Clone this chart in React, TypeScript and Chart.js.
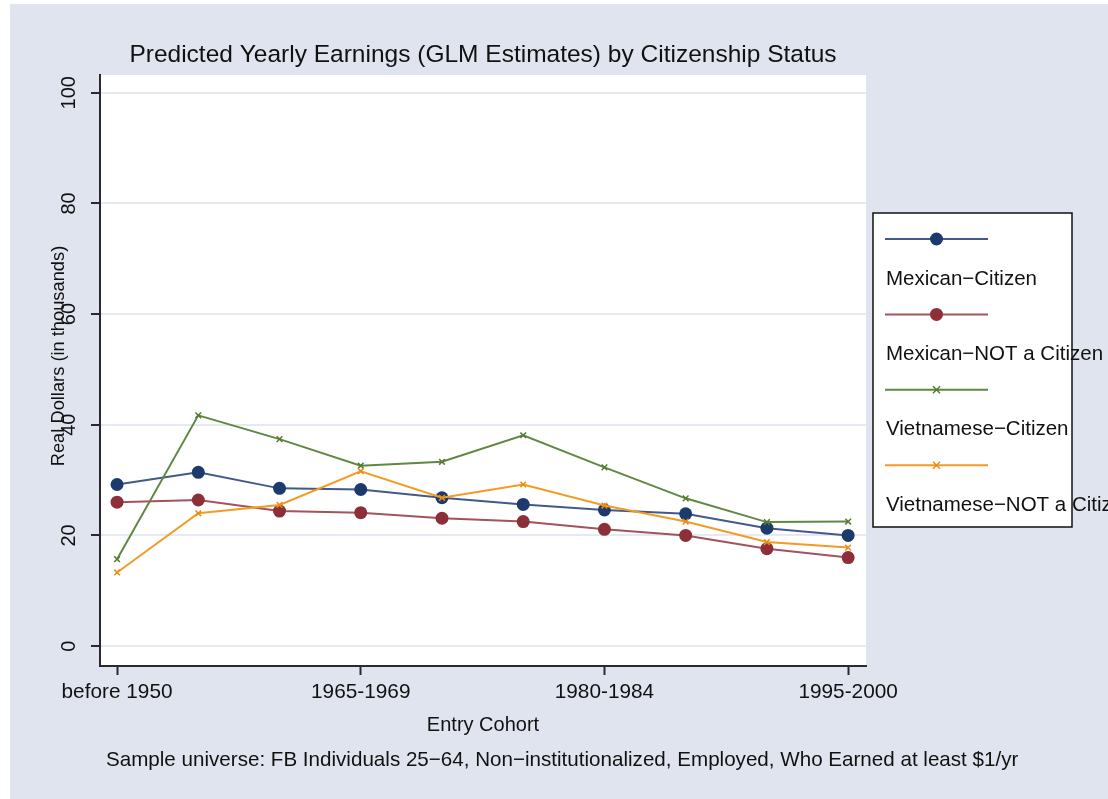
import React, { useEffect, useRef } from 'react';
import { Chart, registerables } from 'chart.js';

Chart.register(...registerables);

// Entry cohorts along the x axis (one point per cohort)
const cohorts = [
  'before 1950',
  '1950-1959',
  '1960-1964',
  '1965-1969',
  '1970-1974',
  '1975-1979',
  '1980-1984',
  '1985-1989',
  '1990-1994',
  '1995-2000',
];
// Cohorts that carry a tick label
const labeledCohorts = [0, 3, 6, 9];
// y axis ticks (thousands of real dollars)
const yTicks = [0, 20, 40, 60, 80, 100];

// Predicted yearly earnings, thousands of real dollars
const mexicanCitizen = [29.2, 31.4, 28.5, 28.3, 26.8, 25.6, 24.6, 23.9, 21.3, 20.0];
const mexicanNonCitizen = [26.0, 26.4, 24.4, 24.1, 23.1, 22.5, 21.1, 20.0, 17.6, 16.0];
const vietnameseCitizen = [15.7, 41.7, 37.4, 32.6, 33.3, 38.1, 32.3, 26.7, 22.4, 22.5];
const vietnameseNonCitizen = [13.3, 24.0, 25.5, 31.6, 26.8, 29.2, 25.4, 22.5, 18.8, 17.8];

const seriesLabels = [
  'Mexican\u2212Citizen',
  'Mexican\u2212NOT a Citizen',
  'Vietnamese\u2212Citizen',
  'Vietnamese\u2212NOT a Citizen',
];

const TITLE = 'Predicted Yearly Earnings (GLM Estimates) by Citizenship Status';
const X_TITLE = 'Entry Cohort';
const Y_TITLE = 'Real Dollars (in thousands)';
const NOTE =
  'Sample universe: FB Individuals 25\u221264, Non\u2212institutionalized, Employed, Who Earned at least $1/yr';

const FONT = '"Liberation Sans", Arial, Helvetica, sans-serif';
const TEXT = '#111111';
const PANEL = '#e0e4ef';
const GRID = '#e4e9f3';
const AXIS = '#2a2a2a';

type Style = { line: string; marker: string; shape: 'circle' | 'crossRot' };
const styles: Style[] = [
  { line: '#42598a', marker: '#1d3a6c', shape: 'circle' },
  { line: '#a4525b', marker: '#8c2f38', shape: 'circle' },
  { line: '#618743', marker: '#55792f', shape: 'crossRot' },
  { line: '#f29b25', marker: '#ea8d10', shape: 'crossRot' },
];
const seriesValues = [mexicanCitizen, mexicanNonCitizen, vietnameseCitizen, vietnameseNonCitizen];

function drawMarker(ctx: CanvasRenderingContext2D, st: Style, x: number, y: number) {
  ctx.save();
  if (st.shape === 'circle') {
    ctx.fillStyle = st.marker;
    ctx.beginPath();
    ctx.arc(x, y, 6.5, 0, Math.PI * 2);
    ctx.fill();
  } else {
    ctx.strokeStyle = st.marker;
    ctx.lineWidth = 1.5;
    const r = 3.5;
    ctx.beginPath();
    ctx.moveTo(x - r, y - r);
    ctx.lineTo(x + r, y + r);
    ctx.moveTo(x - r, y + r);
    ctx.lineTo(x + r, y - r);
    ctx.stroke();
  }
  ctx.restore();
}

const decorPlugin = {
  id: 'decor',
  beforeDraw(chart: any) {
    const { ctx, chartArea: a, width, height } = chart;
    ctx.save();
    ctx.fillStyle = '#ffffff';
    ctx.fillRect(0, 0, width, height);
    ctx.fillStyle = PANEL;
    ctx.fillRect(10, 4, width - 10, height - 4);
    ctx.fillStyle = '#ffffff';
    ctx.fillRect(a.left, a.top, a.right - a.left, a.bottom - a.top);
    ctx.restore();
  },
  afterDraw(chart: any) {
    const { ctx, chartArea: a } = chart;
    const xs = chart.scales.x;
    const ys = chart.scales.y;
    const cx = (a.left + a.right) / 2;
    ctx.save();
    ctx.fillStyle = TEXT;
    ctx.textBaseline = 'middle';

    // title
    ctx.textAlign = 'center';
    ctx.font = `24.5px ${FONT}`;
    ctx.fillText(TITLE, cx, 55);

    // x tick labels and axis title
    ctx.font = `20.8px ${FONT}`;
    labeledCohorts.forEach((i) => ctx.fillText(cohorts[i], xs.getPixelForValue(i), 692));
    ctx.font = `20px ${FONT}`;
    ctx.fillText(X_TITLE, cx, 725);

    // y tick labels, rotated
    ctx.font = `20px ${FONT}`;
    yTicks.forEach((v) => {
      ctx.save();
      ctx.translate(69, ys.getPixelForValue(v));
      ctx.rotate(-Math.PI / 2);
      ctx.fillText(String(v), 0, 0);
      ctx.restore();
    });

    // y axis title
    ctx.save();
    ctx.font = `18.3px ${FONT}`;
    ctx.translate(59, 356);
    ctx.rotate(-Math.PI / 2);
    ctx.fillText(Y_TITLE, 0, 0);
    ctx.restore();

    // note
    ctx.textAlign = 'left';
    ctx.font = `20.6px ${FONT}`;
    ctx.fillText(NOTE, 106, 760);

    // legend
    const bx = 873;
    const by = 213;
    const bw = 199;
    const bh = 314;
    ctx.fillStyle = '#ffffff';
    ctx.fillRect(bx, by, bw, bh);
    ctx.strokeStyle = '#111111';
    ctx.lineWidth = 1.5;
    ctx.strokeRect(bx, by, bw, bh);
    styles.forEach((st, k) => {
      const ly = 239 + k * 75.4;
      ctx.strokeStyle = st.line;
      ctx.lineWidth = 2;
      ctx.beginPath();
      ctx.moveTo(885, ly);
      ctx.lineTo(988, ly);
      ctx.stroke();
      drawMarker(ctx, st, 936.5, ly);
      ctx.fillStyle = TEXT;
      ctx.font = `20.5px ${FONT}`;
      ctx.textAlign = 'left';
      ctx.fillText(seriesLabels[k], 886, ly + 40);
    });
    ctx.restore();
  },
};

export default function App() {
  const canvasRef = useRef<HTMLCanvasElement | null>(null);

  useEffect(() => {
    const canvas = canvasRef.current;
    if (!canvas) return;

    const datasets = seriesValues.map((vals, k) => {
      const st = styles[k];
      return {
        label: seriesLabels[k],
        data: vals.map((v, i) => ({ x: i, y: v })),
        borderColor: st.line,
        backgroundColor: st.marker,
        borderWidth: 2,
        pointStyle: st.shape,
        pointRadius: st.shape === 'circle' ? 6.5 : 4,
        pointBorderWidth: st.shape === 'circle' ? 0 : 1.5,
        pointBackgroundColor: st.marker,
        pointBorderColor: st.marker,
        tension: 0,
        fill: false,
        order: seriesValues.length - k,
      };
    });

    const chart = new Chart(canvas, {
      type: 'line',
      data: { datasets },
      plugins: [decorPlugin],
      options: {
        responsive: false,
        animation: false,
        events: [],
        layout: { padding: { left: 60, top: 75, right: 242, bottom: 73 } },
        plugins: {
          legend: { display: false },
          title: { display: false },
          tooltip: { enabled: false },
        },
        scales: {
          x: {
            type: 'linear',
            min: -0.21,
            max: 9.22,
            afterFit: (s: any) => {
              s.height = 60;
            },
            afterBuildTicks: (s: any) => {
              s.ticks = labeledCohorts.map((v) => ({ value: v }));
            },
            ticks: { display: false },
            grid: {
              drawOnChartArea: false,
              drawTicks: true,
              tickLength: 9,
              tickColor: AXIS,
              tickWidth: 2,
            },
            border: { display: true, color: AXIS, width: 2 },
          },
          y: {
            type: 'linear',
            min: -3.6,
            max: 103.2,
            afterFit: (s: any) => {
              s.width = 40;
            },
            afterBuildTicks: (s: any) => {
              s.ticks = yTicks.map((v) => ({ value: v }));
            },
            ticks: { display: false },
            grid: {
              color: GRID,
              lineWidth: 2,
              drawTicks: true,
              tickLength: 9,
              tickColor: AXIS,
              tickWidth: 2,
            },
            border: { display: true, color: AXIS, width: 2 },
          },
        },
      },
    });

    return () => chart.destroy();
  }, []);

  return (
    <div style={{ position: 'absolute', left: 0, top: 0, width: 1108, height: 799, overflow: 'hidden' }}>
      <canvas ref={canvasRef} width={1108} height={799} style={{ display: 'block' }} />
    </div>
  );
}
